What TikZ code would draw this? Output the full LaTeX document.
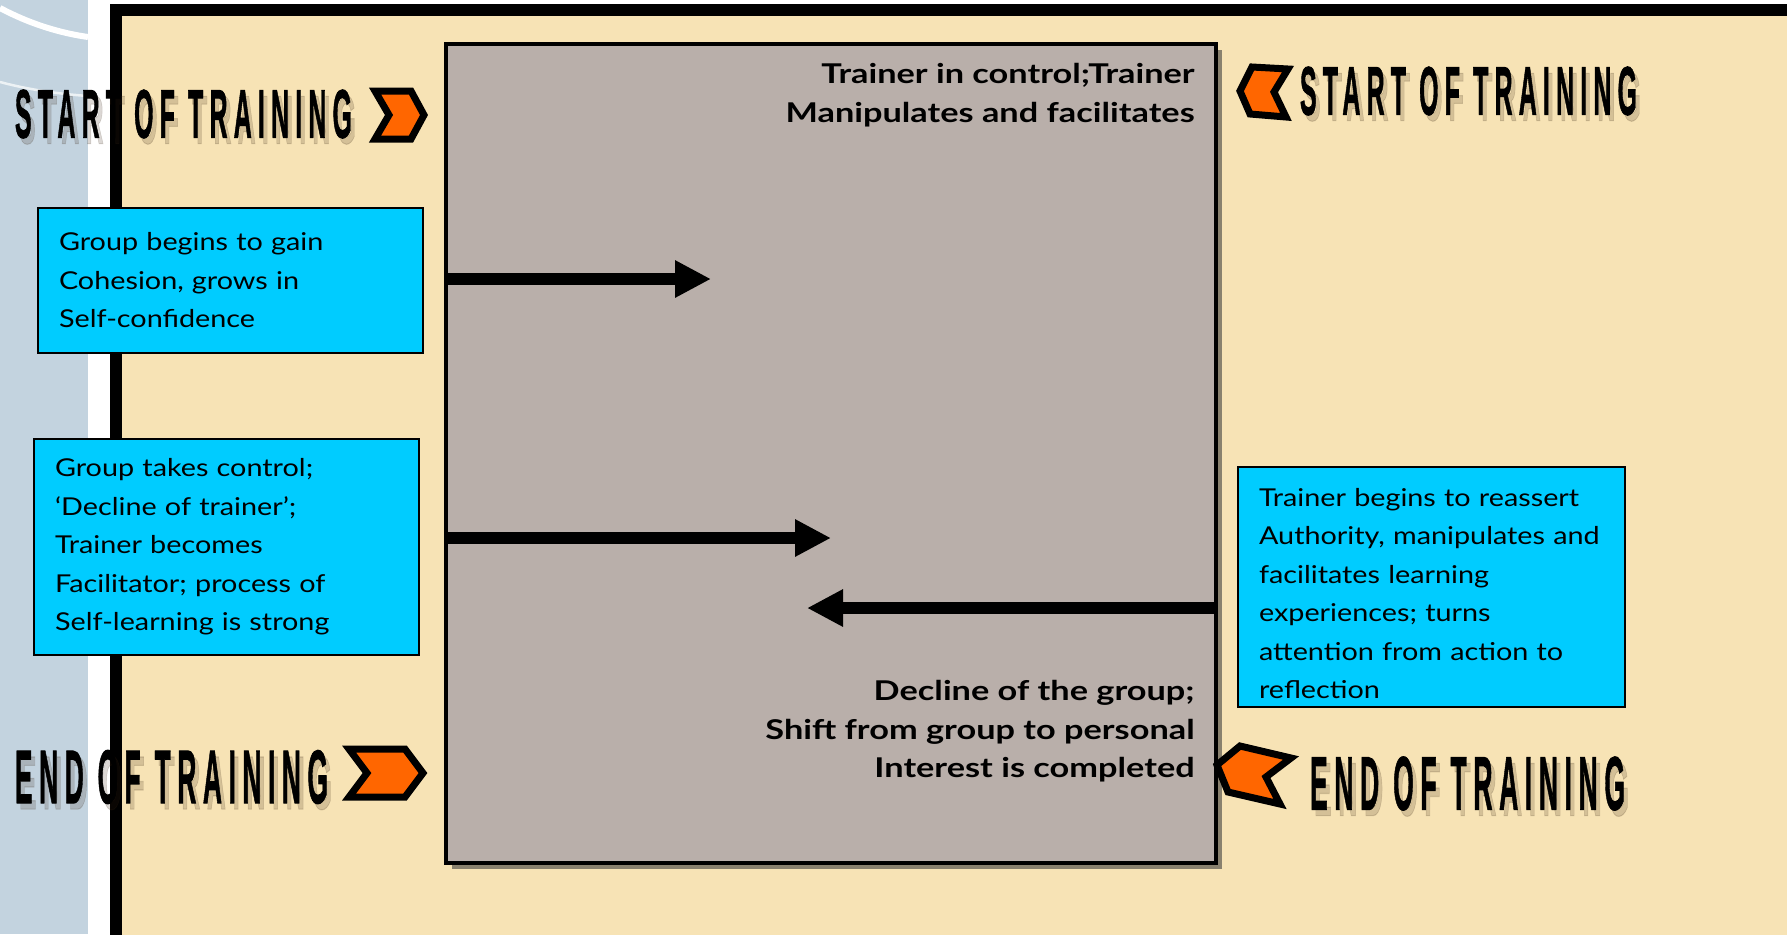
\documentclass[tikz,border=0pt]{standalone}
\usepackage{fontspec}
\setmainfont{Lato}
\newfontfamily\notefont[FakeStretch=1.17]{Lato}
\newfontfamily\titlefont[FakeStretch=1.26]{Lato}
\newfontfamily\bannerfont[LetterSpace=25,FakeBold=1.5]{Liberation Sans}
\usetikzlibrary{arrows.meta, shadows}
\definecolor{slideblue}{HTML}{C3D3DF}
\definecolor{panelbeige}{HTML}{F7E3B5}
\definecolor{stagegray}{HTML}{B9AFAA}
\definecolor{notecyan}{HTML}{00CCFF}
\definecolor{chevorange}{HTML}{FF6600}
\newlength\pxu
\setlength\pxu{0.02cm}
\newcommand{\bannertext}[3]{\resizebox{#1\pxu}{#2\pxu}{\bannerfont\bfseries #3}}

\begin{document}
\begin{tikzpicture}[x=0.02cm, y=-0.02cm,
  >={Triangle[length=0.72cm, width=0.70cm]},
  note/.style={draw=black, line width=1.2pt, fill=notecyan, inner xsep=0.42cm, inner ysep=0pt, align=left, font=\notefont\fontsize{14}{21.9}\selectfont},
  stagetitle/.style={align=right, inner sep=0pt, font=\titlefont\fontsize{15.5}{22}\selectfont\bfseries},
  chevron/.style={draw=black, fill=chevorange, line width=0.14cm, miter limit=10},
  shiftarrow/.style={line width=0.24cm, ->},
  banner/.style={inner sep=0pt, text=black},
  bannershadow/.style={inner sep=0pt, text=black!70!brown, opacity=0.18},
]
\clip (0,0) rectangle (1787,934);
\useasboundingbox (0,0) rectangle (1787,934);

% Background
\fill[white] (0,0) rectangle (1787,934);
\fill[slideblue] (0,0) rectangle (88,934);
\draw[white, line width=0.12cm] (0,8) .. controls (30,24) and (60,33) .. (88,37);
\draw[white!70!slideblue, line width=0.05cm] (0,82) .. controls (30,90) and (60,94) .. (88,96);

% Panel frame
\draw[line width=0.24cm, fill=panelbeige] (116,10) rectangle (1830,990);

% Stage box
\node[draw=black, line width=0.08cm, fill=stagegray, minimum width=15.4cm, minimum height=16.38cm, inner sep=0pt,
  drop shadow={shadow xshift=0.12cm, shadow yshift=-0.12cm, opacity=0.6, fill=black!75}] (stage) at (831,453.5) {};

\node[stagetitle, anchor=north east] (ctrl) at (1195,63) {Trainer in control;Trainer\\Manipulates and facilitates};
\node[stagetitle, anchor=north east] (decline) at (1195,680) {Decline of the group;\\Shift from group to personal\\Interest is completed};

% Arrows
\coordinate (tipA) at (711,279);
\coordinate (tipB) at (831,538);
\coordinate (tipC) at (807,608);
\draw[shiftarrow] (tipA -| stage.west) -- (tipA);
\draw[shiftarrow] (tipB -| stage.west) -- (tipB);
\draw[shiftarrow] (tipC -| stage.east) -- (tipC);

% Notes
\node[note, text width=6.86cm, minimum height=2.9cm] (gain) at (230.5,280.5) {Group begins to gain\\Cohesion, grows in\\Self-confidence};
\node[note, text width=6.86cm, minimum height=4.32cm] (takes) at (226.5,547) {Group takes control;\\‘Decline of trainer’;\\Trainer becomes\\Facilitator; process of\\Self-learning is strong};
\node[note, text width=6.9cm, minimum height=4.8cm] (reassert) at (1431.5,587) {\rule{0pt}{0.62cm}Trainer begins to reassert\\Authority, manipulates and\\facilitates learning\\experiences; turns\\attention from action to\\reflection};

% Banners left
\node[bannershadow] at (187.5,120) {\bannertext{337}{48}{START OF TRAINING}};
\node[banner] (startL) at (183.5,114) {\bannertext{337}{48}{START OF TRAINING}};
\node[bannershadow] at (175.5,783) {\bannertext{313}{53}{END OF TRAINING}};
\node[banner] (endL) at (171.5,777) {\bannertext{313}{53}{END OF TRAINING}};
\draw[chevron] (375,91) -- (411,91) -- (424,115) -- (411,139) -- (375,139) -- (389,115) -- cycle;
\draw[chevron] (349,749) -- (405,749) -- (423,773) -- (405,797) -- (349,797) -- (367,773) -- cycle;

% Banners right
\node[bannershadow] at (1472.5,97) {\bannertext{337}{48}{START OF TRAINING}};
\node[banner] (startR) at (1468.5,91) {\bannertext{337}{48}{START OF TRAINING}};
\node[bannershadow] at (1471.5,789.5) {\bannertext{315}{53}{END OF TRAINING}};
\node[banner] (endR) at (1467.5,783.5) {\bannertext{315}{53}{END OF TRAINING}};
\draw[chevron] (1288,69) -- (1252,67) -- (1240,91) -- (1250,114) -- (1286,117) -- (1274,92) -- cycle;
\draw[chevron] (1291,758) -- (1240,746) -- (1217,765) -- (1228,792) -- (1280,804) -- (1266,777) -- cycle;

\end{tikzpicture}
\end{document}
